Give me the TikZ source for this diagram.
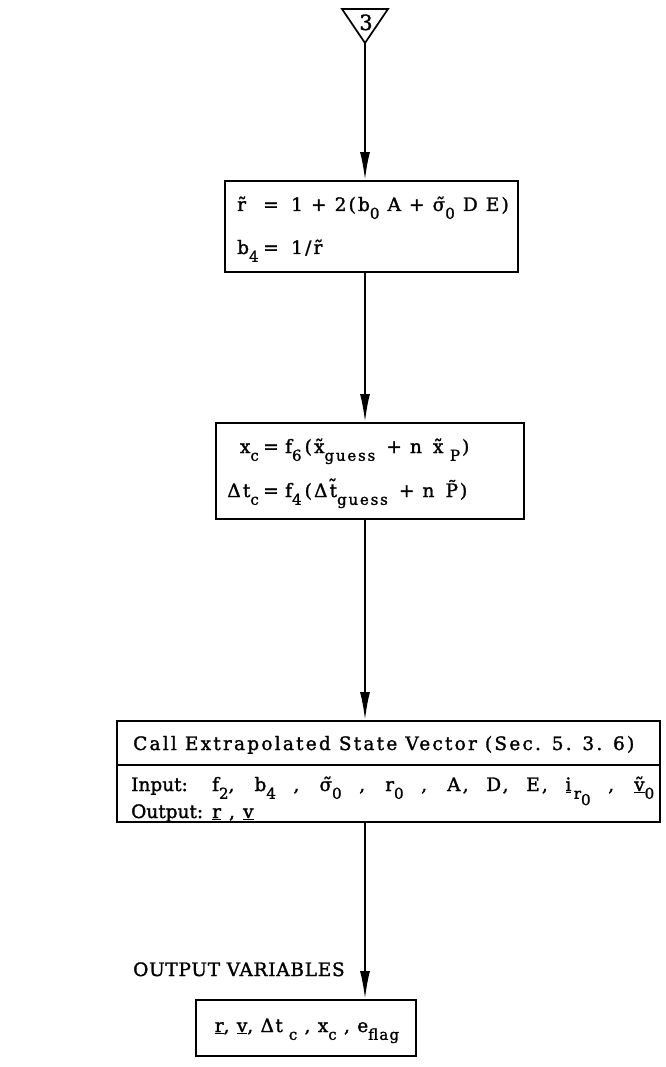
\documentclass[tikz,border=0pt]{standalone}
\usepackage{fontspec}
\setmainfont{DejaVu Serif}[LetterSpace=12,FakeBold=1.5]
\usetikzlibrary{arrows.meta}
\newcommand\lo[1]{\raisebox{-0.42em}{\fontsize{15pt}{15pt}\selectfont #1}}
\newcommand\lsp[1]{\addfontfeature{LetterSpace=#1}}
\begin{document}
\begin{tikzpicture}[x=1pt,y=-1pt,
  box/.style={draw,line width=1.9pt,inner sep=0pt},
  txt/.style={inner sep=0pt,font=\fontsize{18.5pt}{22pt}\selectfont},
  flow/.style={line width=1.9pt,-{Latex[length=28pt,width=10pt]}}]
\useasboundingbox (0,0) rectangle (665,1067);
% connector triangle
\draw[line width=1.7pt,line join=miter] (342,9) -- (388,9) -- (365,43) -- cycle;
\coordinate (apex) at (365,43);
\node[txt,anchor=base,font=\fontsize{21pt}{23pt}\selectfont] (three) at (366,30) {3};
% box 1
\node[box,minimum width=293pt,minimum height=91pt] (b1) at (371.5,226.5) {};
\node[txt,anchor=base west] (b1a) at (237,211) {r̃};
\node[txt,anchor=base] (b1b) at (271,211) {=};
\node[txt,anchor=base west] (b1c) at (291,211) {1 + 2(b\lo{0} A + σ̃\lo{0} D E)};
\node[txt,anchor=base west] (b1d) at (237,254) {b\lo{4}};
\node[txt,anchor=base] (b1e) at (271,254) {=};
\node[txt,anchor=base west] (b1f) at (291,254) {1/r̃};
% box 2
\node[box,minimum width=308pt,minimum height=96pt] (b2) at (370,471) {};
\node[txt,anchor=base east] (b2a) at (259,453) {x\lo{c}};
\node[txt,anchor=base] (b2b) at (271,453) {=};
\node[txt,anchor=base west] (b2c) at (285,453) {f\lo{6}\,(x̃\lo{guess}\hspace{3pt} + n\hspace{3pt} x̃\lo{ P}\hspace{2pt})};
\node[txt,anchor=base east] (b2d) at (259,497) {Δt\lo{c}};
\node[txt,anchor=base] (b2e) at (271,497) {=};
\node[txt,anchor=base west] (b2f) at (285,497) {f\lo{4}\,(Δt̃\lo{guess}\hspace{3pt} + n\hspace{3pt} P̃\hspace{2pt})};
% box 3
\node[box,minimum width=543pt,minimum height=101pt] (b3) at (388.5,771.5) {};
\coordinate (d1) at (117,765);
\coordinate (d2) at (660,765);
\draw[line width=1.6pt] (d1) -- (d2);
\node[txt,anchor=base west] (b3t) at (133,750) {Call Extrapolated State Vector (Sec. 5. 3. 6)};
\node[txt,anchor=base west] (b3i) at (131,791) {\lsp{0}Input:};
\node[txt,anchor=base west] (b3o) at (131,818) {\lsp{0}Output:};
\node[txt,anchor=base west] (b3ov) at (212,818) {\underline{r} , \underline{v}};
\node[txt,anchor=base west] (b3iv) at (212,791) {\makebox[442pt][s]{f\lo{2}, b\lo{4} , σ̃\lo{0} , r\lo{0} , A, D, E, \underline{i}\lo{\,r\lo{0}} , \underline{ṽ}\lo{0}}};
% output
\node[txt,anchor=base west] (ov) at (133,976) {\lsp{4}OUTPUT VARIABLES};
\node[box,minimum width=220pt,minimum height=56pt] (b4) at (306,1028) {};
\node[txt,anchor=base] (b4t) at (307,1032) {\lsp{8}\underline{r}, \underline{v}, Δt\lo{ c} , x\lo{c} , e\lo{flag}};
% connectors
\draw[flow] (apex) -- (apex |- b1.north);
\draw[flow] (apex |- b1.south) -- (apex |- b2.north);
\draw[flow] (apex |- b2.south) -- (apex |- b3.north);
\draw[flow] (apex |- b3.south) -- (apex |- b4.north);
\end{tikzpicture}
\end{document}
